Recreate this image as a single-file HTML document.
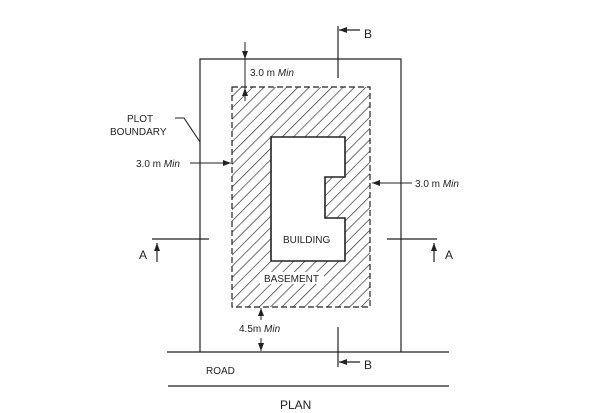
<!DOCTYPE html>
<html><head><style>body{margin:0;background:#fff}svg{display:block}text{font-family:"Liberation Sans",sans-serif;fill:#222}</style></head><body>
<svg width="600" height="413" viewBox="0 0 600 413" xmlns="http://www.w3.org/2000/svg">
<defs>
<pattern id="h" patternUnits="userSpaceOnUse" width="8" height="8" patternTransform="rotate(45)">
<line x1="0" y1="0" x2="0" y2="8" stroke="#222" stroke-width="1.3"/></pattern>
<marker id="ar" markerWidth="8" markerHeight="6" refX="8" refY="3" orient="auto" markerUnits="userSpaceOnUse"><path d="M0,0 L8,3 L0,6z" fill="#222"/></marker>
</defs>
<g stroke="#222" stroke-width="1.2" fill="none">
<path d="M200,352 V59 H401 V352"/>
<line x1="167" y1="352" x2="449" y2="352"/>
<line x1="168" y1="386" x2="449" y2="386"/>
<rect x="232" y="87" width="138" height="220" fill="url(#h)" stroke-dasharray="6,3"/>
<path d="M271,137 H345 V177 H325 V218 H345 V261 H271 Z" fill="#fff" stroke-width="1.6"/>
<rect x="260" y="272" width="64" height="12" fill="#fff" stroke="none"/>
<path d="M338,78 V26"/><line x1="360" y1="30" x2="339" y2="30" marker-end="url(#ar)"/>
<path d="M338,327 V367"/><line x1="360" y1="362" x2="339" y2="362" marker-end="url(#ar)"/>
<line x1="152" y1="239" x2="209" y2="239"/><line x1="157" y1="262" x2="157" y2="243" marker-end="url(#ar)"/>
<line x1="387" y1="239" x2="437" y2="239"/><line x1="434" y1="262" x2="434" y2="243" marker-end="url(#ar)"/>
<line x1="245" y1="42" x2="245" y2="59" marker-end="url(#ar)" stroke-width="1"/>
<line x1="245" y1="59" x2="245" y2="101" stroke-width="1"/>
<line x1="245" y1="101" x2="245" y2="88" marker-end="url(#ar)" stroke-width="1"/>
<line x1="190" y1="163" x2="231" y2="163" marker-end="url(#ar)" stroke-width="1"/>
<line x1="412" y1="183" x2="372" y2="183" marker-end="url(#ar)" stroke-width="1"/>
<line x1="261" y1="320" x2="261" y2="308" marker-end="url(#ar)" stroke-width="1"/>
<line x1="261" y1="338" x2="261" y2="351" marker-end="url(#ar)" stroke-width="1"/>
<path d="M175,118 H184 L200,142" stroke-width="1.1"/>
</g>
<g font-size="10">
<text x="250" y="76">3.0 m <tspan font-style="italic">Min</tspan></text>
<text x="136" y="167">3.0 m <tspan font-style="italic">Min</tspan></text>
<text x="415" y="187">3.0 m <tspan font-style="italic">Min</tspan></text>
<text x="239" y="332">4.5m <tspan font-style="italic">Min</tspan></text>
<text x="127" y="122">PLOT</text>
<text x="110" y="135">BOUNDARY</text>
<text x="283" y="243">BUILDING</text>
<text x="264" y="282">BASEMENT</text>
<text x="206" y="374">ROAD</text>
</g>
<g font-size="12">
<text x="364" y="38">B</text><text x="364" y="369">B</text>
<text x="139" y="259">A</text><text x="445" y="259">A</text>
<text x="280" y="409">PLAN</text>
</g>
</svg>
</body></html>
